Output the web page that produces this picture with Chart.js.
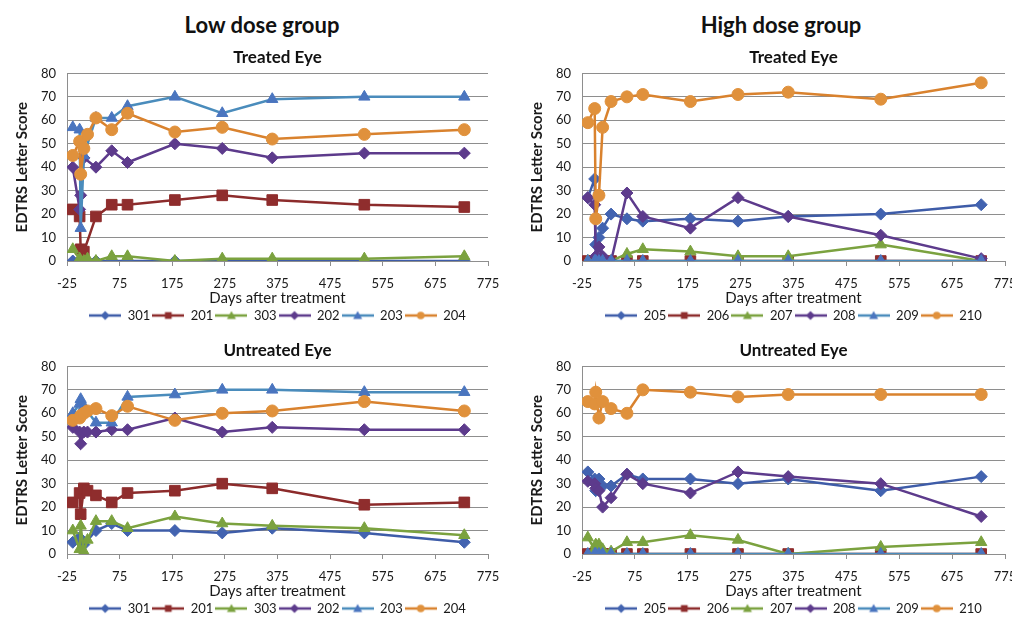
<!DOCTYPE html>
<html>
<head>
<meta charset="utf-8">
<script src="https://cdn.jsdelivr.net/npm/chart.js@4.4.0/dist/chart.umd.min.js"></script>
<style>
body { margin:0; width:1012px; height:617px; overflow:hidden; background:#fff; position:relative; font-family: Lato, sans-serif; }
.grp { position:absolute; top:11px; width:506px; text-align:center; font-weight:bold; font-size:22px; color:#111; }
.panel { position:absolute; height:296px; }
</style>
</head>
<body>
<div class="grp" style="left:9px">Low dose group</div>
<div class="grp" style="left:528px">High dose group</div>
<div class="panel" style="left:0;top:40px;width:512px"><canvas id="lowTreated" width="512" height="296"></canvas></div>
<div class="panel" style="left:506px;top:40px;width:530px"><canvas id="highTreated" width="530" height="296"></canvas></div>
<div class="panel" style="left:0;top:333px;width:512px"><canvas id="lowUntreated" width="512" height="296"></canvas></div>
<div class="panel" style="left:506px;top:333px;width:530px"><canvas id="highUntreated" width="530" height="296"></canvas></div>
<script>
// visit days (x) and axis ticks
var days = [-14, -1, 1, 7, 14, 30, 60, 90, 180, 270, 365, 540, 730];
var xTicks = [-25, 75, 175, 275, 375, 475, 575, 675, 775];
var lowIds = ['301', '201', '303', '202', '203', '204'];
var highIds = ['205', '206', '207', '208', '209', '210'];

// low dose - treated eye
var lt301 = [0, 0, 0, 0, 0, 0, 0, 0, 0, 0, 0, 0, 0];
var lt201 = [22, 19, 5, 4, null, 19, 24, 24, 26, 28, 26, 24, 23];
var lt303 = [5, 1, 0, 0, 1, 0, 2, 2, 0, 1, 1, 1, 2];
var lt202 = [40, 22, 28, 44, null, 40, 47, 42, 50, 48, 44, 46, 46];
var lt203 = [57, 56, 14, 45, null, 61, 61, 66, 70, 63, 69, 70, 70];
var lt204 = [45, 51, 37, 48, 54, 61, 56, 63, 55, 57, 52, 54, 56];

// low dose - untreated eye
var lu301 = [5, 7, 6, 4, null, 10, 13, 10, 10, 9, 11, 9, 5];
var lu201 = [22, 26, 17, 28, 27, 25, 22, 26, 27, 30, 28, 21, 22];
var lu303 = [10, 2, 12, 1, 6, 14, 14, 11, 16, 13, 12, 11, 8];
var lu202 = [54, 52, 47, 52, 52, 52, 53, 53, 58, 52, 54, 53, 53];
var lu203 = [60, 64, 66, 63, null, 56, 56, 67, 68, 70, 70, 69, 69];
var lu204 = [57, 58, 59, 60, 61, 62, 59, 63, 57, 60, 61, 65, 61];

// high dose - treated eye
var ht205 = [27, 35, 7, 10, 14, 20, 18, 17, 18, 17, 19, 20, 24];
var ht206 = [0, 0, 0, 0, 0, 0, 0, 0, 0, 0, 0, 0, 0];
var ht207 = [0, 0, 0, 0, 0, 0, 3, 5, 4, 2, 2, 7, 0];
var ht208 = [27, 24, 2, 6, 2, 0, 29, 19, 14, 27, 19, 11, 1];
var ht209 = [0, 0, 0, 0, 0, 0, 0, 0, 0, 0, 0, 0, 0];
var ht210 = [59, 65, 18, 28, 57, 68, 70, 71, 68, 71, 72, 69, 76];

// high dose - untreated eye
var hu205 = [35, 32, 27, 32, 29, 29, 34, 32, 32, 30, 32, 27, 33];
var hu206 = [0, 0, 0, 0, 0, 0, 0, 0, 0, 0, 0, 0, 0];
var hu207 = [7, 2, 4, 4, 2, 1, 5, 5, 8, 6, 0, 3, 5];
var hu208 = [31, 30, 28, 27, 20, 24, 34, 30, 26, 35, 33, 30, 16];
var hu209 = [0, 0, 0, 0, 0, 0, 0, 0, 0, 0, 0, 0, 0];
var hu210 = [65, 64, 69, 58, 65, 62, 60, 70, 69, 67, 68, 68, 68];

var lineColors = ['#3E5CA8', '#8C2B2B', '#7BA23F', '#5D3B8C', '#4A8CBC', '#D9822E'];
var markerColors = ['#4263B0', '#8F2D2D', '#7BA23F', '#5D3B8C', '#4A75BF', '#E0913C'];
var markers = ['rectRot', 'rect', 'triangle', 'rectRot', 'triangle', 'circle'];
var radii = [6, 7.5, 6.5, 6, 6.5, 6];
var gridGray = '#8e8e8e';

Chart.defaults.font.family = 'Lato, sans-serif';
Chart.defaults.color = '#1a1a1a';

// little picture for the legend: line with the marker on it
function drawMarker(ctx, style, x, y, r) {
  ctx.beginPath();
  if (style == 'rectRot') {
    ctx.moveTo(x, y - r); ctx.lineTo(x + r, y); ctx.lineTo(x, y + r); ctx.lineTo(x - r, y);
  } else if (style == 'rect') {
    ctx.rect(x - r * 0.75, y - r * 0.75, r * 1.5, r * 1.5);
  } else if (style == 'triangle') {
    ctx.moveTo(x, y - r); ctx.lineTo(x + r, y + r * 0.75); ctx.lineTo(x - r, y + r * 0.75);
  } else {
    ctx.arc(x, y, r * 0.85, 0, Math.PI * 2);
  }
  ctx.closePath();
  ctx.fill();
}

var legendIcons = [];
for (var i = 0; i < 6; i++) {
  var c = document.createElement('canvas');
  c.width = 32; c.height = 14;
  var cx = c.getContext('2d');
  cx.strokeStyle = lineColors[i];
  cx.lineWidth = 2.5;
  cx.beginPath(); cx.moveTo(0, 7); cx.lineTo(32, 7); cx.stroke();
  cx.fillStyle = markerColors[i];
  drawMarker(cx, markers[i], 16, 7, 4.5);
  legendIcons.push(c);
}

function makeDatasets(ids, series) {
  return ids.map(function(id, i) {
    return {
      label: id,
      data: days.map(function(d, k) { return {x: d, y: series[i][k]}; }),
      borderColor: lineColors[i],
      backgroundColor: markerColors[i],
      pointBackgroundColor: markerColors[i],
      pointBorderColor: markerColors[i],
      pointStyle: markers[i],
      pointRadius: radii[i],
      pointBorderWidth: 1,
      borderWidth: 2.5,
      spanGaps: true,
      order: 6 - i
    };
  });
}

function buildChart(canvasId, title, ids, series, padLeft, padRight) {
  new Chart(document.getElementById(canvasId), {
    type: 'line',
    data: { datasets: makeDatasets(ids, series) },
    options: {
      responsive: false,
      animation: false,
      devicePixelRatio: 1,
      layout: { padding: { left: padLeft, right: padRight, top: 1, bottom: 4 } },
      scales: {
        x: {
          type: 'linear',
          min: -25, max: 775,
          afterBuildTicks: function(s) { s.ticks = xTicks.map(function(v) { return {value: v}; }); },
          afterFit: function(s) { s.height = 46; },
          ticks: { font: { size: 13 }, padding: 10, autoSkip: false, maxRotation: 0 },
          grid: { drawOnChartArea: false, drawTicks: true, tickLength: 5, color: gridGray },
          border: { color: gridGray },
          title: { display: true, text: 'Days after treatment', font: { size: 15 }, padding: { top: 0, bottom: 0 } }
        },
        y: {
          min: 0, max: 80,
          afterFit: function(s) { s.width = 67; },
          ticks: { stepSize: 10, font: { size: 13 }, padding: 11 },
          grid: { color: gridGray, drawTicks: false },
          border: { color: gridGray },
          title: { display: true, text: 'EDTRS Letter Score', font: { size: 15, weight: 'bold' }, padding: { top: 13, bottom: 0 } }
        }
      },
      plugins: {
        title: { display: true, text: title, fullSize: false, font: { size: 17, weight: 'bold' }, color: '#111', padding: { top: 6, bottom: 6 } },
        legend: {
          position: 'bottom',
          fullSize: false,
          labels: {
            usePointStyle: true,
            pointStyleWidth: 32,
            font: { size: 13 },
            padding: 2,
            sort: function(a, b) { return a.datasetIndex - b.datasetIndex; },
            generateLabels: function(chart) {
              var items = Chart.defaults.plugins.legend.labels.generateLabels(chart);
              items.forEach(function(it) { it.pointStyle = legendIcons[it.datasetIndex]; });
              return items;
            }
          }
        },
        tooltip: { enabled: false }
      }
    }
  });
}

buildChart('lowTreated', 'Treated Eye', lowIds, [lt301, lt201, lt303, lt202, lt203, lt204], 0, 24);
buildChart('highTreated', 'Treated Eye', highIds, [ht205, ht206, ht207, ht208, ht209, ht210], 9, 31);
buildChart('lowUntreated', 'Untreated Eye', lowIds, [lu301, lu201, lu303, lu202, lu203, lu204], 0, 24);
buildChart('highUntreated', 'Untreated Eye', highIds, [hu205, hu206, hu207, hu208, hu209, hu210], 9, 31);
</script>
</body>
</html>
